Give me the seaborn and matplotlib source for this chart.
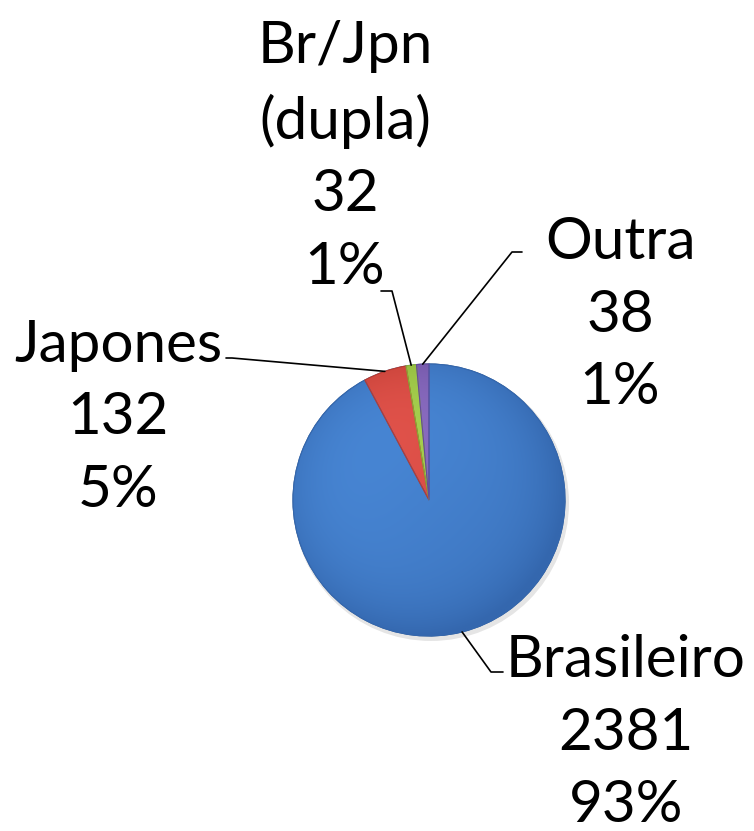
import numpy as np
import seaborn as sns
from matplotlib import pyplot as plt
from matplotlib.colors import LinearSegmentedColormap
from matplotlib.patches import Wedge

# Chart data
categories = ["Brasileiro", "Japones", "Br/Jpn\n(dupla)", "Outra"]
counts = [2381, 132, 32, 38]
percent_labels = ["93%", "5%", "1%", "1%"]

# Slice colours (Office 2007 style)
light_colors = ["#4785D3", "#E0524A", "#A6CF4E", "#8A6CC0"]
dark_colors = ["#3467AE", "#BA3A30", "#86AD35", "#654A9A"]

# Label layout in pixel space (y measured from top of the image)
label_pos = [(626, 733), (118, 418), (345, 157), (620, 315)]
# leader line: text anchor, elbow
leader_pts = [[(503, 672), (491, 672)],
              [(226, 358), (232, 358)],
              [(381, 291), (392, 291)],
              [(522, 252), (512, 252)]]

W, H = 754, 831
center_px = (429, 500)
radius_px = 136

sns.set_theme(style="white")
plt.rcParams['font.family'] = ['Lato', 'DejaVu Sans']

fig = plt.figure(figsize=(W / 100, H / 100), dpi=100)
ax = fig.add_axes([0, 0, 1, 1])

cx, cy = center_px[0], H - center_px[1]

# soft shadow under the pie
shadow = plt.Circle((cx + 2, cy - 3), radius_px + 2, color='#000000', alpha=0.10, lw=0)
ax.add_patch(shadow)

wedges, _ = ax.pie(counts, startangle=90, counterclock=False, radius=radius_px,
                   center=(cx, cy), colors=light_colors,
                   wedgeprops=dict(linewidth=0.8, edgecolor='#3A5F8F'), frame=True)
ax.set_xlim(0, W)
ax.set_ylim(0, H)
ax.set_aspect('equal')
ax.axis('off')

# gradient shading for each slice: lighter upper left, darker towards the rim
yy, xx = np.mgrid[-1:1:300j, -1:1:300j]
rr = np.sqrt(xx ** 2 + yy ** 2)
shade = np.clip(0.25 * (xx + yy) + 0.15 + 0.6 * rr ** 4, 0, 1)
for w, c1, c2 in zip(wedges, light_colors, dark_colors):
    cmap = LinearSegmentedColormap.from_list('s', [c1, c2])
    im = ax.imshow(shade, cmap=cmap, vmin=0, vmax=1, origin='upper',
                   extent=(cx - radius_px, cx + radius_px, cy - radius_px, cy + radius_px),
                   zorder=w.get_zorder() + 0.1, interpolation='bilinear')
    im.set_clip_path(w)
    edge = Wedge(w.center, w.r, w.theta1, w.theta2,
                 fill=False, lw=0.8, ec=c2, zorder=w.get_zorder() + 0.2)
    ax.add_patch(edge)

# labels and leader lines
for w, name, n, pct, (tx, ty), pts in zip(wedges, categories, counts, percent_labels,
                                          label_pos, leader_pts):
    ax.text(tx, H - ty, f"{name}\n{n}\n{pct}", ha='center', va='center',
            fontsize=42, linespacing=1.45, color='black')
    mid = np.deg2rad((w.theta1 + w.theta2) / 2)
    ex = cx + radius_px * np.cos(mid)
    ey = cy + radius_px * np.sin(mid)
    xs = [pts[0][0], pts[1][0], ex]
    ys = [H - pts[0][1], H - pts[1][1], ey]
    ax.plot(xs, ys, color='black', lw=1.2, zorder=5)

plt.savefig('out.png', dpi=100)
plt.close()
